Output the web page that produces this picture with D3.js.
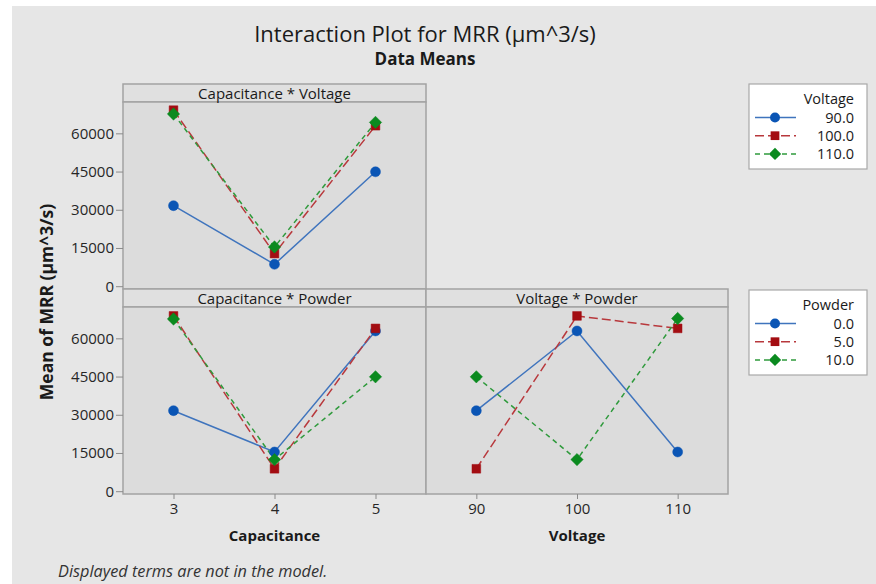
<!DOCTYPE html>
<html>
<head>
<meta charset="utf-8">
<script src="https://cdn.jsdelivr.net/npm/d3@7"></script>
<style>
  html, body { margin: 0; padding: 0; background: #ffffff; }
  svg { display: block; font-family: "Open Sans", "Noto Sans", sans-serif; }
</style>
</head>
<body>
<svg id="chart" width="876" height="584"></svg>
<script>
// Factor levels
const capacitance = [3, 4, 5];
const voltage = [90, 100, 110];
const powder = [0, 5, 10];

// Mean MRR for Capacitance, one row per Voltage level
const capByVoltage = [
  [31600, 8600, 44900],   // 90.0
  [69100, 12800, 63000],  // 100.0
  [67600, 15400, 64300]   // 110.0
];
// Mean MRR for Capacitance, one row per Powder level
const capByPowder = [
  [31600, 15400, 62900],  // 0.0
  [68800, 8800, 63900],   // 5.0
  [67600, 12400, 44900]   // 10.0
];
// Mean MRR for Voltage, one row per Powder level
const voltByPowder = [
  [31600, 62900, 15400],  // 0.0
  [8800, 68800, 63900],   // 5.0
  [44900, 12400, 67800]   // 10.0
];

const yTicks = [0, 15000, 30000, 45000, 60000];
const voltageLabels = ["90.0", "100.0", "110.0"];
const powderLabels = ["0.0", "5.0", "10.0"];

// A square diamond (rotated square) for the third series
const squareDiamond = {
  draw(context, size) {
    const r = Math.sqrt(size / 2);
    context.moveTo(0, -r);
    context.lineTo(r, 0);
    context.lineTo(0, r);
    context.lineTo(-r, 0);
    context.closePath();
  }
};

// Series styling (colour, marker, dash) shared by both legends
const styles = [
  { line: "#3f74bd", fill: "#0a55b5", symbol: d3.symbolCircle, size: 78, dash: null },
  { line: "#b8383c", fill: "#a30d12", symbol: d3.symbolSquare, size: 76, dash: "9,4" },
  { line: "#2f9a3c", fill: "#0b8a1f", symbol: squareDiamond, size: 76, dash: "5,4" }
];

const svg = d3.select("#chart");
const tickFont = 15;

// Canvas background
svg.append("rect").attr("x", 12).attr("y", 6).attr("width", 864).attr("height", 578)
  .attr("fill", "#e6e6e6");

// Titles
svg.append("text").attr("x", 425).attr("y", 42).attr("text-anchor", "middle")
  .attr("font-size", 22).attr("fill", "#1a1a1a").text("Interaction Plot for MRR (µm^3/s)");
svg.append("text").attr("x", 425).attr("y", 65).attr("text-anchor", "middle")
  .attr("font-size", 17).attr("font-weight", "bold").attr("fill", "#1a1a1a").text("Data Means");

// Panel layout
const headerH = 18;
const panels = [
  { title: "Capacitance * Voltage", cats: capacitance, rows: capByVoltage,
    x0: 123, x1: 426, top: 84, yAxis: true, xAxis: false },
  { title: "Capacitance * Powder", cats: capacitance, rows: capByPowder,
    x0: 123, x1: 426, top: 289, yAxis: true, xAxis: true, xTitle: "Capacitance" },
  { title: "Voltage * Powder", cats: voltage, rows: voltByPowder,
    x0: 426, x1: 728, top: 289, yAxis: false, xAxis: true, xTitle: "Voltage" }
];

const border = "#a3a3a3";

panels.forEach(p => {
  const plotTop = p.top + headerH;
  const plotBottom = plotTop + 187;
  const g = svg.append("g");

  const x = d3.scalePoint().domain(p.cats).range([p.x0, p.x1]).padding(0.5);
  const y = d3.scaleLinear().domain([-1100, 72300]).range([plotBottom, plotTop]);

  // header strip and plotting region
  g.append("rect").attr("x", p.x0).attr("y", p.top).attr("width", p.x1 - p.x0).attr("height", headerH)
    .attr("fill", "#e0e0e0").attr("stroke", border).attr("stroke-width", 1.5);
  g.append("rect").attr("x", p.x0).attr("y", plotTop).attr("width", p.x1 - p.x0).attr("height", plotBottom - plotTop)
    .attr("fill", "#dcdcdc").attr("stroke", border).attr("stroke-width", 1.5);
  g.append("text").attr("x", (p.x0 + p.x1) / 2).attr("y", p.top + 14.5).attr("text-anchor", "middle")
    .attr("font-size", 15).attr("font-weight", "500").attr("fill", "#1a1a1a").text(p.title);

  if (p.yAxis) {
    const ax = g.append("g").attr("transform", `translate(${p.x0},0)`)
      .call(d3.axisLeft(y).tickValues(yTicks).tickSize(7).tickPadding(2).tickFormat(d3.format("d")));
    ax.select(".domain").remove();
    ax.selectAll("line").attr("stroke", "#8a8a8a");
    ax.selectAll("text").attr("font-size", tickFont).attr("fill", "#262626")
      .attr("font-family", "'Open Sans', 'Noto Sans', sans-serif");
  }
  if (p.xAxis) {
    const ax = g.append("g").attr("transform", `translate(0,${plotBottom})`)
      .call(d3.axisBottom(x).tickSize(5).tickPadding(4));
    ax.select(".domain").remove();
    ax.selectAll("line").attr("stroke", "#8a8a8a");
    ax.selectAll("text").attr("font-size", tickFont).attr("fill", "#262626")
      .attr("font-family", "'Open Sans', 'Noto Sans', sans-serif");
    g.append("text").attr("x", (p.x0 + p.x1) / 2).attr("y", 541).attr("text-anchor", "middle")
      .attr("font-size", 15).attr("font-weight", "bold").attr("fill", "#1a1a1a").text(p.xTitle);
  }

  const line = d3.line().x((d, i) => x(p.cats[i])).y(d => y(d));
  p.rows.forEach((row, s) => {
    const st = styles[s];
    g.append("path").datum(row).attr("d", line).attr("fill", "none")
      .attr("stroke", st.line).attr("stroke-width", 1.5)
      .attr("stroke-dasharray", st.dash);
  });
  p.rows.forEach((row, s) => {
    const st = styles[s];
    g.selectAll(null).data(row).join("path")
      .attr("transform", (d, i) => `translate(${x(p.cats[i])},${y(d)})`)
      .attr("d", d3.symbol().type(st.symbol).size(st.size))
      .attr("fill", st.fill).attr("stroke", st.fill).attr("stroke-width", 0.5);
  });
});

// Y axis title
svg.append("text").attr("transform", "translate(53,302) rotate(-90)")
  .attr("text-anchor", "middle")
  .attr("font-size", 17.5).attr("font-weight", "bold").attr("fill", "#1a1a1a")
  .text("Mean of MRR (µm^3/s)");

// Legends
function legend(top, title, labels) {
  const g = svg.append("g");
  g.append("rect").attr("x", 749).attr("y", top).attr("width", 118).attr("height", 85)
    .attr("fill", "#ffffff").attr("stroke", "#a8a8a8").attr("stroke-width", 1.2);
  g.append("text").attr("x", 854).attr("y", top + 20).attr("text-anchor", "end")
    .attr("font-size", 14.5).attr("fill", "#1a1a1a").text(title);
  labels.forEach((lab, i) => {
    const st = styles[i];
    const cy = top + 33.5 + i * 18.2;
    g.append("line").attr("x1", 755).attr("x2", 796).attr("y1", cy).attr("y2", cy)
      .attr("stroke", st.line).attr("stroke-width", 1.5).attr("stroke-dasharray", st.dash);
    g.append("path").attr("transform", `translate(775,${cy})`)
      .attr("d", d3.symbol().type(st.symbol).size(st.size)).attr("fill", st.fill);
    g.append("text").attr("x", 854).attr("y", cy).attr("dy", "0.36em").attr("text-anchor", "end")
      .attr("font-size", 14.5).attr("fill", "#1a1a1a").text(lab);
  });
}
legend(84, "Voltage", voltageLabels);
legend(290, "Powder", powderLabels);

// Footnote
svg.append("text").attr("x", 58).attr("y", 577).attr("font-size", 16.3).attr("font-style", "italic")
  .attr("fill", "#333333").text("Displayed terms are not in the model.");
</script>
</body>
</html>
